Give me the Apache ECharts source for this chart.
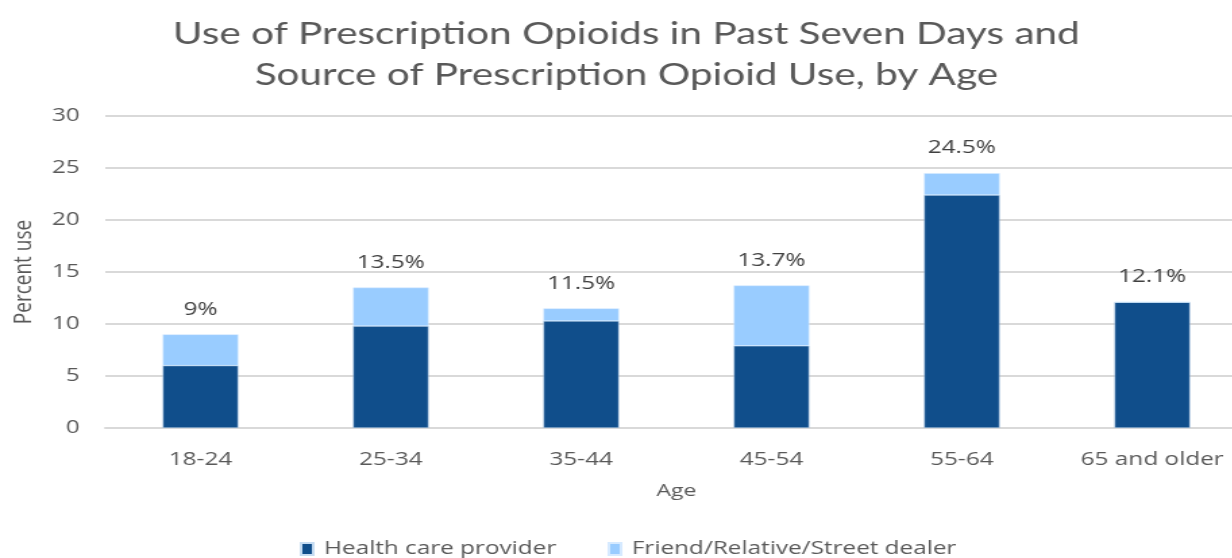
<!DOCTYPE html>
<html>
<head>
<meta charset="utf-8">
<script src="https://cdn.jsdelivr.net/npm/echarts@6/dist/echarts.min.js"></script>
<style>
  html, body { margin: 0; padding: 0; background: #ffffff; overflow: hidden; }
  /* chart is laid out narrow and widened horizontally */
  #chart { width: 913px; height: 558px; transform: scaleX(1.35); transform-origin: 0 0; }
</style>
</head>
<body>
<div id="chart"></div>
<script>
// Age groups on the x axis
const ageGroups = ['18-24', '25-34', '35-44', '45-54', '55-64', '65 and older'];
// Percent of each age group by source of the opioids
const healthCareProvider = [6.0, 9.8, 10.3, 7.9, 22.4, 12.1];
const friendRelativeDealer = [3.0, 3.7, 1.2, 5.8, 2.1, 0];
// Totals printed above each stacked bar
const totalLabels = ['9%', '13.5%', '11.5%', '13.7%', '24.5%', '12.1%'];
// Value axis ticks
const yTicks = [0, 5, 10, 15, 20, 25, 30];

const FONT = '"Open Sans", "Liberation Sans", sans-serif';
const TITLE_FONT = 'Lato, "Open Sans", sans-serif';
const chart = echarts.init(document.getElementById('chart'), null, { renderer: 'canvas' });

chart.setOption({
  animation: false,
  backgroundColor: '#ffffff',
  title: {
    text: 'Use of Prescription Opioids in Past Seven Days and\nSource of Prescription Opioid Use, by Age',
    left: 459,
    textAlign: 'center',
    top: 9,
    textStyle: {
      fontFamily: TITLE_FONT,
      fontSize: 30,
      fontWeight: 'normal',
      color: '#595959',
      lineHeight: 41
    }
  },
  legend: {
    top: 535,
    left: 217,
    itemWidth: 9,
    itemHeight: 12,
    itemGap: 38,
    icon: 'rect',
    textStyle: { fontFamily: FONT, fontSize: 18, color: '#595959', padding: [0, 0, 0, 3] },
    data: ['Health care provider', 'Friend/Relative/Street dealer']
  },
  grid: { left: 78, top: 116, width: 846, height: 312, containLabel: false, outerBoundsMode: 'none' },
  xAxis: {
    type: 'category',
    data: ageGroups,
    name: 'Age',
    nameLocation: 'middle',
    nameGap: 55,
    nameTextStyle: { fontFamily: FONT, fontSize: 17, color: '#595959' },
    axisLine: { lineStyle: { color: '#d9d9d9', width: 2 } },
    axisTick: { show: false },
    axisLabel: { fontFamily: FONT, fontSize: 18, color: '#595959', margin: 23 }
  },
  yAxis: {
    type: 'value',
    min: yTicks[0],
    max: yTicks[yTicks.length - 1],
    interval: 5,
    name: 'Percent use',
    nameLocation: 'middle',
    nameGap: 50,
    nameRotate: 90,
    nameTextStyle: { fontFamily: FONT, fontSize: 19, color: '#595959' },
    axisLine: { show: false },
    axisTick: { show: false },
    axisLabel: { fontFamily: FONT, fontSize: 18, color: '#595959', margin: 19 },
    splitLine: { lineStyle: { color: '#d9d9d9', width: 2 } }
  },
  series: [
    {
      name: 'Health care provider',
      type: 'bar',
      stack: 'source',
      barWidth: 56,
      data: healthCareProvider,
      itemStyle: { color: '#104e8b', borderColor: '#c6dcf2', borderWidth: 0.5 }
    },
    {
      name: 'Friend/Relative/Street dealer',
      type: 'bar',
      stack: 'source',
      barWidth: 56,
      data: friendRelativeDealer,
      itemStyle: { color: '#99ccff', borderColor: '#d6eaff', borderWidth: 0.5 },
      label: {
        show: true,
        position: 'top',
        distance: 16,
        fontFamily: FONT,
        fontSize: 18,
        color: '#404040',
        formatter: p => totalLabels[p.dataIndex]
      }
    }
  ]
});
</script>
</body>
</html>
